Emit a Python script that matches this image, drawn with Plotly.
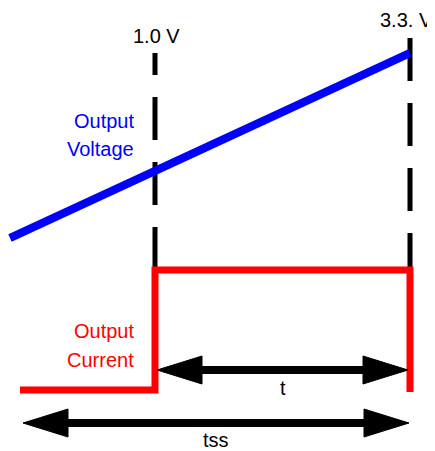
import plotly.graph_objects as go

# ---- data (diagram units) ----
voltage_x = [10, 410]
voltage_y = [238, 53]

current_x = [20, 155, 155, 410, 410]
current_y = [390, 390, 270, 270, 392]

marker_x = [155, 410]
marker_top = [53, 38]
marker_bottom = [270, 272]
marker_labels = ["1.0 V", "3.3. V"]
marker_label_x = [156, 406]
marker_label_y = [36, 20]

arrow_names = ["t", "tss"]
arrow_start = [157, 23]
arrow_end = [408, 409]
arrow_y = [370, 423]
arrow_label_x = [283, 216]
arrow_label_y = [388, 440]

FONT = "Liberation Sans, Arial, Helvetica, sans-serif"
FS = 20
HEAD_LEN = 45
HEAD_HALF = 14
PAGE_MARGIN = 8  # browser default body margin

fig = go.Figure()

# dashed vertical markers (left drawn upward, right drawn downward)
fig.add_trace(go.Scatter(x=[marker_x[0], marker_x[0]], y=[marker_bottom[0], marker_top[0]],
                         mode="lines", line=dict(color="black", width=5, dash="43px,22px"),
                         hoverinfo="skip"))
fig.add_trace(go.Scatter(x=[marker_x[1], marker_x[1]], y=[marker_top[1], marker_bottom[1]],
                         mode="lines", line=dict(color="black", width=5, dash="43px,22px"),
                         hoverinfo="skip"))

# output voltage
fig.add_trace(go.Scatter(x=voltage_x, y=voltage_y, mode="lines",
                         line=dict(color="#0000FF", width=8), hoverinfo="skip"))
# output current
fig.add_trace(go.Scatter(x=current_x, y=current_y, mode="lines",
                         line=dict(color="#FF0000", width=7), hoverinfo="skip"))

# double arrows
for xs, xe, y in zip(arrow_start, arrow_end, arrow_y):
    fig.add_trace(go.Scatter(x=[xs + HEAD_LEN - 2, xe - HEAD_LEN + 2], y=[y, y], mode="lines",
                             line=dict(color="black", width=8), hoverinfo="skip"))
    fig.add_trace(go.Scatter(x=[xs, xs + HEAD_LEN, xs + HEAD_LEN, xs],
                             y=[y, y - HEAD_HALF, y + HEAD_HALF, y],
                             mode="lines", fill="toself", fillcolor="black",
                             line=dict(color="black", width=1), hoverinfo="skip"))
    fig.add_trace(go.Scatter(x=[xe, xe - HEAD_LEN, xe - HEAD_LEN, xe],
                             y=[y, y - HEAD_HALF, y + HEAD_HALF, y],
                             mode="lines", fill="toself", fillcolor="black",
                             line=dict(color="black", width=1), hoverinfo="skip"))

annotations = []
for lbl, lx, ly in zip(marker_labels, marker_label_x, marker_label_y):
    annotations.append(dict(x=lx, y=ly, text=lbl, showarrow=False,
                            xanchor="center", yanchor="middle",
                            font=dict(family=FONT, size=FS, color="black")))
for name, lx, ly in zip(arrow_names, arrow_label_x, arrow_label_y):
    annotations.append(dict(x=lx, y=ly, text=name, showarrow=False,
                            xanchor="center", yanchor="middle",
                            font=dict(family=FONT, size=FS, color="black")))
for txt, ly in zip(["Output", "Voltage"], [121, 149]):
    annotations.append(dict(x=136, y=ly, text=txt, showarrow=False, xanchor="right",
                            yanchor="middle", font=dict(family=FONT, size=FS, color="#0000FF")))
for txt, ly in zip(["Output", "Current"], [331, 360]):
    annotations.append(dict(x=136, y=ly, text=txt, showarrow=False, xanchor="right",
                            yanchor="middle", font=dict(family=FONT, size=FS, color="#FF0000")))

fig.update_layout(
    width=435 - PAGE_MARGIN, height=451 - PAGE_MARGIN,
    margin=dict(l=0, r=0, t=0, b=0),
    paper_bgcolor="white", plot_bgcolor="white",
    showlegend=False,
    xaxis=dict(range=[PAGE_MARGIN, 435], visible=False, fixedrange=True),
    yaxis=dict(range=[451, PAGE_MARGIN], visible=False, fixedrange=True),
    annotations=annotations,
)

fig.write_html("out.html", config={"displayModeBar": False, "staticPlot": True})
